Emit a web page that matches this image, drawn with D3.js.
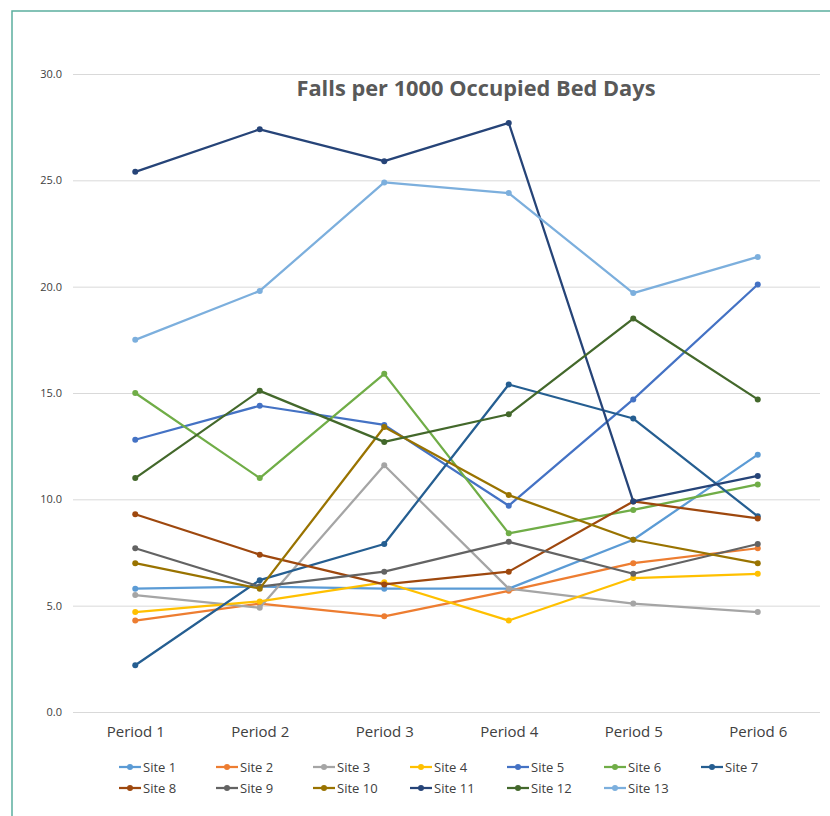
<!DOCTYPE html>
<html>
<head>
<meta charset="utf-8">
<script src="https://cdn.jsdelivr.net/npm/d3@7"></script>
<style>
  body { margin: 0; background: #fff; }
  svg { display: block; font-family: "Open Sans", "Noto Sans", sans-serif; }
</style>
</head>
<body>
<div id="chart"></div>
<script>
// ============ DATA ============
const periods = ["Period 1", "Period 2", "Period 3", "Period 4", "Period 5", "Period 6"];
const sites = ["Site 1", "Site 2", "Site 3", "Site 4", "Site 5", "Site 6", "Site 7",
               "Site 8", "Site 9", "Site 10", "Site 11", "Site 12", "Site 13"];
const yTicks = [0, 5, 10, 15, 20, 25, 30];

const site1  = [5.8, 5.9, 5.8, 5.8, 8.1, 12.1];
const site2  = [4.3, 5.1, 4.5, 5.7, 7.0, 7.7];
const site3  = [5.5, 4.9, 11.6, 5.8, 5.1, 4.7];
const site4  = [4.7, 5.2, 6.1, 4.3, 6.3, 6.5];
const site5  = [12.8, 14.4, 13.5, 9.7, 14.7, 20.1];
const site6  = [15.0, 11.0, 15.9, 8.4, 9.5, 10.7];
const site7  = [2.2, 6.2, 7.9, 15.4, 13.8, 9.2];
const site8  = [9.3, 7.4, 6.0, 6.6, 9.9, 9.1];
const site9  = [7.7, 5.9, 6.6, 8.0, 6.5, 7.9];
const site10 = [7.0, 5.8, 13.4, 10.2, 8.1, 7.0];
const site11 = [25.4, 27.4, 25.9, 27.7, 9.9, 11.1];
const site12 = [11.0, 15.1, 12.7, 14.0, 18.5, 14.7];
const site13 = [17.5, 19.8, 24.9, 24.4, 19.7, 21.4];

const seriesValues = [site1, site2, site3, site4, site5, site6, site7,
                      site8, site9, site10, site11, site12, site13];

const colors = ["#5B9BD5", "#ED7D31", "#A5A5A5", "#FFC000", "#4472C4", "#70AD47", "#255E91",
                "#9E480E", "#636363", "#997300", "#264478", "#43682B", "#7CAFDD"];

// build series table from the arrays
const series = sites.map((name, i) => ({
    name: name,
    color: colors[i],
    values: periods.map((p, j) => ({period: p, value: seriesValues[i][j]}))
}));

// ============ LAYOUT ============
const W = 830, H = 816;
const plot = {left: 73, right: 820, top: 74, bottom: 712};

const svg = d3.select("#chart")
    .append("svg")
    .attr("width", W)
    .attr("height", H);

// frame (teal top + left edges)
svg.append("path")
    .attr("d", `M12,${H} L12,11 L${W},11`)
    .attr("fill", "none")
    .attr("stroke", "#5BAF9E")
    .attr("stroke-width", 1.5);

// scales
const x = d3.scalePoint()
    .domain(periods)
    .range([plot.left, plot.right])
    .padding(0.5);

const y = d3.scaleLinear()
    .domain([0, 30])
    .range([plot.bottom, plot.top]);

// gridlines + y labels
const yAxis = svg.append("g")
    .attr("transform", `translate(${plot.left},0)`)
    .call(d3.axisLeft(y)
        .tickValues(yTicks)
        .tickSize(-(plot.right - plot.left))
        .tickPadding(11)
        .tickFormat(d3.format(".1f")));

yAxis.select(".domain").remove();
yAxis.selectAll(".tick line")
    .attr("stroke", "#D9D9D9")
    .attr("stroke-width", 1);
yAxis.selectAll(".tick text")
    .attr("fill", "#404040")
    .style("font-size", "11px")
    .style("font-family", "'Open Sans', sans-serif");

// x labels
const xAxis = svg.append("g")
    .attr("transform", `translate(0,${plot.bottom})`)
    .call(d3.axisBottom(x).tickSize(0).tickPadding(14));

xAxis.select(".domain").remove();
xAxis.selectAll(".tick text")
    .attr("fill", "#404040")
    .style("font-size", "15px")
    .style("font-family", "'Open Sans', sans-serif");

// title
svg.append("text")
    .attr("x", 476)
    .attr("y", 96)
    .attr("text-anchor", "middle")
    .attr("fill", "#595959")
    .attr("font-weight", "bold")
    .attr("font-size", "22px")
    .attr("textLength", 359)
    .attr("lengthAdjust", "spacingAndGlyphs")
    .text("Falls per 1000 Occupied Bed Days");

// lines
const line = d3.line()
    .x(d => x(d.period))
    .y(d => y(d.value));

series.forEach(s => {
    const g = svg.append("g");
    g.append("path")
        .datum(s.values)
        .attr("fill", "none")
        .attr("stroke", s.color)
        .attr("stroke-width", 2.25)
        .attr("stroke-linejoin", "round")
        .attr("d", line);

    g.selectAll("circle")
        .data(s.values)
        .enter()
        .append("circle")
        .attr("cx", d => x(d.period))
        .attr("cy", d => y(d.value))
        .attr("r", 3)
        .attr("fill", s.color);
});

// legend
const legend = svg.append("g");
series.forEach((s, i) => {
    const col = i % 7;
    const row = Math.floor(i / 7);
    const lx = 119 + col * 97;
    const ly = 767 + row * 21;
    const item = legend.append("g").attr("transform", `translate(${lx},${ly})`);
    item.append("line")
        .attr("x1", 0).attr("x2", 22)
        .attr("y1", 0).attr("y2", 0)
        .attr("stroke", s.color)
        .attr("stroke-width", 2.25);
    item.append("circle")
        .attr("cx", 11).attr("cy", 0)
        .attr("r", 3)
        .attr("fill", s.color);
    item.append("text")
        .attr("x", 24)
        .attr("y", 0)
        .attr("dy", "0.35em")
        .attr("fill", "#404040")
        .style("font-size", "13px")
        .text(s.name);
});
</script>
</body>
</html>
